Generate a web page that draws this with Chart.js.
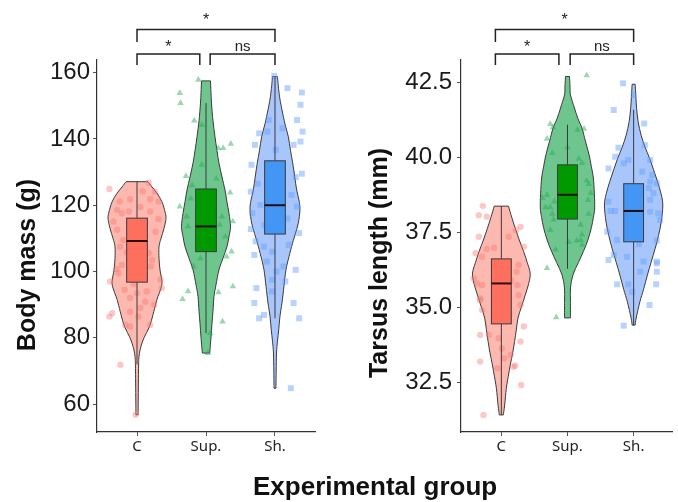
<!DOCTYPE html>
<html>
<head>
<meta charset="utf-8">
<script src="https://cdn.jsdelivr.net/npm/chart.js@4.4.1/dist/chart.umd.min.js"></script>
<style>
  html, body { margin: 0; padding: 0; background: #fff; overflow: hidden; }
  #wrap { position: relative; width: 678px; height: 502px; }
  #massChart { position: absolute; left: 0; top: 0; }
  #tarsusChart { position: absolute; left: 340px; top: 0; }
  #xTitle {
    position: absolute; left: 253px; top: 471px;
    font: bold 26px 'Liberation Sans', Arial, sans-serif; line-height: 30px;
    color: #111; white-space: nowrap;
  }
</style>
</head>
<body>
<div id="wrap">
  <canvas id="massChart" width="340" height="502"></canvas>
  <canvas id="tarsusChart" width="338" height="502"></canvas>
  <div id="xTitle">Experimental group</div>
</div>
<script>
// Groups on the x axis
const groups = ['C', 'Sup.', 'Sh.'];

// Tick values
const massTicks = [60, 80, 100, 120, 140, 160];
const tarsusTicks = [32.5, 35, 37.5, 40, 42.5];

// Pairwise tests: [group a, group b, label]
const comparisons = [[1, 3, '*'], [1, 2, '*'], [2, 3, 'ns']];

// Box stats: [lower whisker, Q1, median, Q3, upper whisker]
const massBoxes = [
    [72, 96.8, 109.2, 116.1, 127.1],
    [81.4, 106, 113.6, 124.9, 150.8],
    [85.9, 111.3, 120, 133.4, 158.6]
];
const tarsusBoxes = [
    [31.41, 34.45, 35.8, 36.62, 38.38],
    [36.29, 37.95, 38.76, 39.76, 41.1],
    [34.4, 37.19, 38.22, 39.13, 41.6]
];

// Violin outlines: [value, half width in group units]
const massViolinC = [[56.8, 0.017], [60, 0.017], [70, 0.022], [74.4, 0.029], [77.4, 0.058], [80, 0.101], [83.4, 0.181], [87, 0.232], [90.5, 0.275], [92.5, 0.304], [95, 0.348], [97, 0.362], [100.5, 0.333], [104, 0.319], [107.5, 0.319], [110, 0.348], [113, 0.391], [116, 0.42], [118, 0.406], [121, 0.362], [123.6, 0.29], [125.5, 0.217], [127.1, 0.159]];
const massViolinSup = [[75.4, 0.054], [80, 0.072], [84.4, 0.087], [88, 0.101], [92.5, 0.116], [96, 0.145], [100.5, 0.188], [104, 0.246], [107.5, 0.304], [110.5, 0.333], [113.6, 0.355], [117.6, 0.333], [121, 0.304], [124.6, 0.275], [128.5, 0.232], [132.7, 0.188], [136.5, 0.159], [140.7, 0.13], [145.5, 0.101], [150.8, 0.08], [154, 0.072], [157.5, 0.065]];
const massViolinSh = [[64.8, 0.014], [70, 0.017], [75.4, 0.022], [79, 0.036], [82.4, 0.054], [86.5, 0.072], [90.5, 0.101], [95.5, 0.13], [100.5, 0.159], [104.5, 0.203], [108.5, 0.254], [111.5, 0.297], [114.6, 0.338], [118.6, 0.362], [121.5, 0.348], [124.6, 0.314], [128.5, 0.287], [132.7, 0.257], [136.5, 0.225], [140.7, 0.193], [144.5, 0.145], [148.8, 0.101], [152, 0.072], [154.8, 0.054], [158.8, 0.036]];

const tarsusViolinC = [[31.41, 0.03], [31.74, 0.05], [32.3, 0.075], [32.7, 0.105], [33.08, 0.135], [33.5, 0.173], [33.86, 0.2], [34.25, 0.226], [34.64, 0.251], [35.0, 0.301], [35.41, 0.361], [35.8, 0.414], [36.14, 0.436], [36.5, 0.391], [36.86, 0.338], [37.25, 0.271], [37.64, 0.211], [38.0, 0.158], [38.38, 0.108]];
const tarsusViolinSup = [[34.65, 0.045], [35.2, 0.045], [35.65, 0.045], [36.09, 0.083], [36.5, 0.165], [36.87, 0.241], [37.25, 0.308], [37.66, 0.361], [38.0, 0.391], [38.32, 0.411], [38.8, 0.406], [39.32, 0.391], [39.7, 0.361], [40.1, 0.326], [40.55, 0.271], [40.99, 0.218], [41.3, 0.158], [41.66, 0.105], [42.1, 0.045], [42.4, 0.038], [42.71, 0.03]];
const tarsusViolinSh = [[34.41, 0.023], [34.64, 0.038], [35.19, 0.095], [35.6, 0.15], [36.08, 0.208], [36.5, 0.263], [36.97, 0.326], [37.4, 0.376], [37.86, 0.418], [38.42, 0.441], [38.8, 0.414], [39.2, 0.361], [39.6, 0.301], [39.98, 0.241], [40.35, 0.173], [40.75, 0.113], [41.2, 0.068], [41.65, 0.045], [42.05, 0.033], [42.45, 0.023]];

// Individual birds: [jitter in group units, value]
const massPointsC = [[-0.40, 124.9], [0.17, 126.8], [-0.25, 121.1], [-0.10, 121.8], [0.19, 121.8], [0.26, 124.1], [0.31, 121.1], [-0.29, 118.6], [-0.22, 117.6], [-0.12, 118.1], [0.19, 118.1], [0.31, 115.8], [-0.34, 115.1], [-0.29, 112.6], [-0.24, 107.5], [0.17, 105.5], [-0.22, 102], [-0.27, 99.5], [-0.39, 97], [0.34, 97.5], [0.36, 95], [0.14, 94], [0, 93.5], [-0.10, 92], [0.12, 90.9], [-0.36, 87.4], [-0.40, 86.4], [-0.10, 87.9], [0.02, 86.4], [0.19, 83.9], [-0.17, 83.9], [-0.10, 83.4], [-0.24, 71.9], [-0.02, 56.8], [0.05, 119.5], [-0.06, 113.5], [0.12, 110.5], [-0.15, 105.8], [0.22, 103.5], [-0.3, 100.8], [0.1, 99], [0.27, 112], [-0.05, 96.2], [0.2, 101.5], [-0.2, 109.5], [0.08, 124.2], [-0.18, 94.5], [0.25, 90], [0.05, 89]];
const massPointsSup = [[-0.11, 157.8], [-0.38, 153.8], [-0.37, 150.8], [-0.17, 145.5], [-0.06, 144.2], [0.18, 137.2], [0.25, 137.2], [0.36, 138.5], [-0.29, 128.8], [-0.06, 132.2], [0.35, 123.8], [-0.38, 119.6], [-0.28, 116.6], [0.23, 116.6], [0.39, 115.1], [-0.26, 113.6], [0.20, 114.1], [0.37, 106], [0.30, 104.5], [-0.18, 101.5], [0.39, 95.5], [-0.26, 94], [-0.34, 91.7], [0.18, 93.7], [0.24, 84.9], [0.06, 81.4], [0.03, 75.4], [0.0, 110], [-0.12, 108], [0.1, 120], [-0.2, 126], [0.15, 128], [-0.22, 122], [0.28, 110.5], [-0.08, 104]];
const massPointsSh = [[-0.01, 159], [0.18, 155.3], [0.39, 154], [0.37, 150.3], [0.32, 145.7], [0.40, 142.2], [0.37, 139.2], [-0.23, 141.7], [-0.11, 142.2], [-0.09, 145.7], [0.11, 143.2], [-0.29, 138.2], [-0.34, 132.2], [0.01, 136.7], [0.27, 138.2], [0.39, 129.5], [0.30, 128.5], [-0.35, 124.1], [0.24, 123.1], [-0.21, 120.1], [0.32, 119.6], [-0.33, 117.6], [-0.35, 112.8], [0.35, 111.6], [-0.28, 109.1], [-0.16, 107.5], [-0.04, 106], [-0.30, 105], [0.12, 101.5], [0.02, 100], [0.30, 100.5], [0.15, 97], [-0.04, 97.5], [-0.27, 95], [0.27, 90.5], [-0.30, 90.5], [-0.16, 86.9], [-0.23, 85.9], [0.35, 85.9], [-0.04, 94], [0.23, 64.8], [0.05, 125], [-0.1, 128], [0.18, 116], [-0.15, 114], [0.08, 131], [-0.25, 126.5], [0.2, 108], [-0.12, 103]];

const tarsusPointsC = [[-0.28, 38.39], [-0.34, 38.08], [-0.22, 38.03], [0.29, 37.69], [0.22, 37.58], [-0.34, 37.36], [0.11, 37.36], [-0.11, 36.99], [-0.22, 36.95], [0.34, 37.03], [-0.39, 36.81], [-0.29, 36.69], [0.23, 36.19], [0.26, 36.42], [-0.37, 35.8], [-0.29, 35.75], [0.24, 35.75], [-0.32, 35.3], [0.26, 35.41], [-0.29, 34.91], [0.29, 35.08], [0.34, 34.36], [0.29, 33.86], [-0.32, 34.08], [-0.19, 34.08], [-0.04, 33.97], [0.01, 33.63], [0.04, 33.3], [0.14, 33.41], [0.21, 33.05], [-0.06, 32.97], [-0.32, 33.19], [0.30, 32.41], [-0.27, 31.41], [-0.42, 35.97], [-0.32, 35.25], [0.18, 33.02], [0.05, 36.3], [-0.1, 35.2], [0.12, 34.8], [-0.05, 36.5], [0.15, 35.9]];
const tarsusPointsSup = [[0.29, 42.75], [-0.26, 41.12], [-0.22, 41.01], [-0.31, 40.63], [0.25, 40.96], [0.15, 40.93], [0, 40.34], [-0.23, 40.15], [0.17, 39.96], [0.22, 39.82], [0.29, 39.23], [0.32, 39.12], [0.35, 38.82], [-0.31, 38.76], [-0.38, 38.65], [-0.33, 38.34], [-0.26, 38.34], [-0.23, 38.12], [-0.21, 37.93], [0.32, 38.12], [0.20, 37.76], [0.22, 37.43], [0.14, 37.23], [0.02, 37.18], [-0.18, 36.93], [0.22, 37.09], [-0.31, 36.31], [-0.17, 34.67], [0.31, 38.58], [-0.2, 38.53], [-0.26, 37.58], [0.2, 37.25], [0.05, 39.4], [-0.1, 39.0], [0.1, 38.3], [-0.05, 38.0], [0.12, 39.6]];
const tarsusPointsSh = [[-0.16, 42.48], [-0.30, 41.59], [0, 42.09], [0.16, 41.14], [0.17, 40.42], [-0.23, 40.33], [-0.28, 40.03], [-0.15, 39.81], [-0.08, 39.92], [0.25, 39.92], [-0.38, 39.64], [0.13, 39.53], [0.28, 39.42], [0.25, 39.2], [0.35, 39.14], [0.23, 38.98], [0.30, 38.81], [0.25, 38.59], [-0.38, 38.53], [-0.35, 38.22], [-0.28, 38.22], [0.40, 37.92], [0.25, 38.19], [-0.40, 37.53], [-0.25, 37.25], [0.35, 37.23], [0.08, 37.11], [-0.38, 36.58], [0.35, 36.53], [-0.10, 36.69], [-0.30, 36.75], [0.35, 36.19], [0.10, 36.19], [-0.25, 35.77], [-0.08, 35.77], [0.34, 35.77], [-0.02, 35.52], [0.24, 35.08], [-0.15, 34.39], [0.35, 36.47], [0.15, 36.53], [0.37, 38.14], [0.05, 38.6], [-0.1, 38.9], [0.1, 37.6], [-0.05, 37.9]];

// Styles
const violinFill = ['#FDB8B0', '#6EC58E', '#A8C6FB'];
const boxFill = ['#FF6F5E', '#009A00', '#4496F5'];
const pointColor = ['rgba(248,118,109,0.4)', 'rgba(30,170,80,0.45)', 'rgba(97,156,255,0.45)'];
const pointShape = ['circle', 'triangle', 'rect'];
const pointSize = [3.2, 3.8, 4.2];
const outline = '#3a3a3a';
const boxHalf = 0.15;

// Catmull-Rom curve through pixel points
function smoothPath(ctx, pts, first) {
    if (first) ctx.moveTo(pts[0][0], pts[0][1]);
    else ctx.lineTo(pts[0][0], pts[0][1]);
    for (let i = 0; i < pts.length - 1; i++) {
        const p0 = pts[Math.max(i - 1, 0)], p1 = pts[i], p2 = pts[i + 1], p3 = pts[Math.min(i + 2, pts.length - 1)];
        ctx.bezierCurveTo(
            p1[0] + (p2[0] - p0[0]) / 6, p1[1] + (p2[1] - p0[1]) / 6,
            p2[0] - (p3[0] - p1[0]) / 6, p2[1] - (p3[1] - p1[1]) / 6,
            p2[0], p2[1]);
    }
}

function panelPlugin(panel) {
    return {
        id: 'panel',
        beforeDatasetsDraw(chart) {
            const { ctx, scales: { x, y } } = chart;
            panel.violins.forEach((v, i) => {
                const right = v.map(d => [x.getPixelForValue(i + 1 + d[1]), y.getPixelForValue(d[0])]);
                const left = v.map(d => [x.getPixelForValue(i + 1 - d[1]), y.getPixelForValue(d[0])]).reverse();
                ctx.save();
                ctx.beginPath();
                smoothPath(ctx, right, true);
                smoothPath(ctx, left, false);
                ctx.closePath();
                ctx.fillStyle = violinFill[i];
                ctx.fill();
                ctx.strokeStyle = outline;
                ctx.lineWidth = 1;
                ctx.stroke();
                ctx.restore();
            });
        },
        afterDatasetsDraw(chart) {
            const { ctx, scales: { x, y } } = chart;
            panel.boxes.forEach((b, i) => {
                const cx = x.getPixelForValue(i + 1);
                const x0 = x.getPixelForValue(i + 1 - boxHalf);
                const x1 = x.getPixelForValue(i + 1 + boxHalf);
                const yq1 = y.getPixelForValue(b[1]), yq3 = y.getPixelForValue(b[3]);
                ctx.save();
                ctx.strokeStyle = outline;
                ctx.lineWidth = 1;
                ctx.beginPath();
                ctx.moveTo(cx, y.getPixelForValue(b[0]));
                ctx.lineTo(cx, yq1);
                ctx.moveTo(cx, yq3);
                ctx.lineTo(cx, y.getPixelForValue(b[4]));
                ctx.stroke();
                ctx.fillStyle = boxFill[i];
                ctx.fillRect(x0, yq3, x1 - x0, yq1 - yq3);
                ctx.strokeRect(x0, yq3, x1 - x0, yq1 - yq3);
                const ym = y.getPixelForValue(b[2]);
                ctx.strokeStyle = '#2a0b0b';
                ctx.lineWidth = 2;
                ctx.beginPath();
                ctx.moveTo(x0, ym);
                ctx.lineTo(x1, ym);
                ctx.stroke();
                ctx.restore();
            });
        },
        afterDraw(chart) {
            const { ctx, chartArea, scales: { x } } = chart;
            const top = chartArea.top;
            ctx.save();
            // significance brackets
            ctx.strokeStyle = '#222';
            ctx.lineWidth = 1.5;
            ctx.fillStyle = '#222';
            ctx.textAlign = 'center';
            comparisons.forEach(([a, b, label], k) => {
                let xa, xb, bar, leg, base;
                if (b - a === 2) {
                    xa = x.getPixelForValue(a + panel.gap[0]);
                    xb = x.getPixelForValue(b);
                    bar = top - 30.5; leg = top - 18; base = top - 35;
                } else {
                    xa = x.getPixelForValue(a === 1 ? a + panel.gap[0] : a + panel.gap[2]);
                    xb = x.getPixelForValue(b === 2 ? b + panel.gap[1] : b);
                    bar = top - 6; leg = top + 5; base = label === 'ns' ? top - 9 : top - 8;
                }
                ctx.beginPath();
                ctx.moveTo(xa, leg);
                ctx.lineTo(xa, bar);
                ctx.lineTo(xb, bar);
                ctx.lineTo(xb, leg);
                ctx.stroke();
                ctx.font = (label === 'ns' ? '15px' : '16px') + " 'Liberation Sans', Arial, sans-serif";
                ctx.fillText(label, (xa + xb) / 2, base);
            });
            // y axis title
            ctx.translate(panel.titleX, panel.titleY);
            ctx.rotate(-Math.PI / 2);
            ctx.font = "bold 25px 'Liberation Sans', Arial, sans-serif";
            ctx.fillStyle = '#111';
            ctx.textBaseline = 'middle';
            ctx.fillText(panel.title, 0, 0);
            ctx.restore();
        }
    };
}

function makePanel(canvasId, panel) {
    const ctx = document.getElementById(canvasId).getContext('2d');
    return new Chart(ctx, {
        type: 'scatter',
        data: {
            datasets: panel.points.map((pts, i) => ({
                label: groups[i],
                data: pts.map(d => ({ x: i + 1 + d[0], y: d[1] })),
                pointStyle: pointShape[i],
                pointRadius: pointSize[i],
                pointHoverRadius: pointSize[i],
                backgroundColor: pointColor[i],
                borderWidth: 0
            }))
        },
        options: {
            responsive: false,
            animation: false,
            events: [],
            layout: { padding: panel.padding },
            plugins: { legend: { display: false }, tooltip: { enabled: false } },
            scales: {
                x: {
                    type: 'linear',
                    min: panel.xRange[0],
                    max: panel.xRange[1],
                    afterBuildTicks: s => { s.ticks = groups.map((g, i) => ({ value: i + 1 })); },
                    afterFit: s => { s.height = 70; },
                    ticks: {
                        callback: v => groups[v - 1],
                        font: { family: 'Noto Sans', size: 15 },
                        color: '#222',
                        padding: 2
                    },
                    grid: { drawOnChartArea: false, drawTicks: true, tickLength: 4, color: '#555' },
                    border: { color: '#333', width: 1.2 }
                },
                y: {
                    min: panel.yRange[0],
                    max: panel.yRange[1],
                    afterBuildTicks: s => { s.ticks = panel.ticks.map(v => ({ value: v })); },
                    afterFit: s => { s.width = panel.yWidth; },
                    ticks: {
                        callback: panel.tickFormat,
                        font: { family: 'Liberation Sans', size: 24 },
                        color: '#1a1a1a',
                        padding: panel.tickPad
                    },
                    grid: { drawOnChartArea: false, drawTicks: true, tickLength: 4, color: '#555' },
                    border: { color: '#333', width: 1.2 }
                }
            }
        },
        plugins: [panelPlugin(panel)]
    });
}

makePanel('massChart', {
    title: 'Body mass (g)', titleX: 28.5, titleY: 265,
    ticks: massTicks, tickFormat: v => v, tickPad: 3,
    boxes: massBoxes,
    violins: [massViolinC, massViolinSup, massViolinSh],
    points: [massPointsC, massPointsSup, massPointsSh],
    xRange: [0.42, 3.58], yRange: [51.6, 163.8],
    yWidth: 97, padding: { top: 60, right: 25, left: 0, bottom: 0 },
    gap: [0, -0.09, 0.06]
});

makePanel('tarsusChart', {
    title: 'Tarsus length (mm)', titleX: 40.5, titleY: 263,
    ticks: tarsusTicks, tickFormat: v => v.toFixed(1), tickPad: 5,
    boxes: tarsusBoxes,
    violins: [tarsusViolinC, tarsusViolinSup, tarsusViolinSh],
    points: [tarsusPointsC, tarsusPointsSup, tarsusPointsSh],
    xRange: [0.39, 3.58], yRange: [30.84, 43.26],
    yWidth: 121, padding: { top: 60, right: 6, left: 0, bottom: 0 },
    gap: [-0.09, -0.13, 0.04]
});
</script>
</body>
</html>
